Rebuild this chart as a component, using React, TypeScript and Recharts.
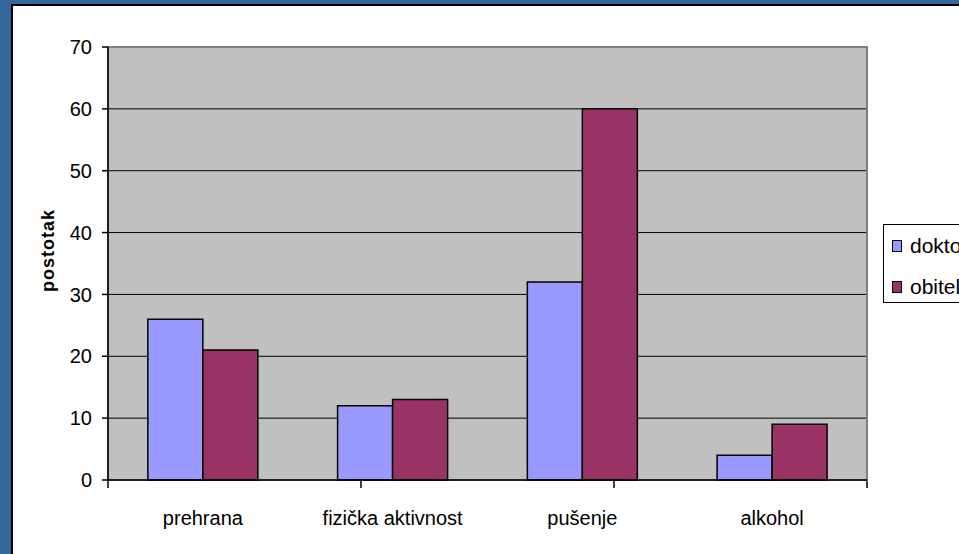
import React from 'react';
import { BarChart, Bar, XAxis, YAxis, CartesianGrid, ReferenceArea } from 'recharts';

const categories = ['prehrana', 'fizička aktivnost', 'pušenje', 'alkohol'];
const doktori = [26, 12, 32, 4];
const obitelj = [21, 13, 60, 9];
const yTicks = [0, 10, 20, 30, 40, 50, 60, 70];
const boundaryTicks = [0, 1, 2, 3, 4];
const seriesNames = ['doktori', 'obitelj'];
const seriesColors = ['#9999ff', '#993366'];

const data = categories.map((c, i) => ({ name: c, doktori: doktori[i], obitelj: obitelj[i] }));

const FONT = '"Liberation Sans", Arial, sans-serif';

const YLabel = (props: any) => {
  const vb = props.viewBox || { x: 0, y: 0, width: 0, height: 0 };
  const x = vb.x + 48;
  const y = vb.y + vb.height / 2 - 13;
  return (
    <text
      x={x}
      y={y}
      transform={`rotate(-90 ${x} ${y})`}
      textAnchor="middle"
      dominantBaseline="central"
      style={{ fontFamily: FONT, fontSize: 18, fontWeight: 'bold', letterSpacing: 1 }}
      fill="#000"
    >
      postotak
    </text>
  );
};

const LegendBox = () => (
  <div
    style={{
      position: 'absolute',
      left: 883,
      top: 224,
      width: 120,
      height: 79,
      border: '1px solid #000',
      background: '#fff',
      fontFamily: FONT,
      fontSize: 21,
      boxSizing: 'border-box',
    }}
  >
    {seriesNames.map((n, i) => (
      <div key={n} style={{ position: 'absolute', left: 8, top: 9 + i * 41, display: 'flex', alignItems: 'center', lineHeight: '24px', whiteSpace: 'nowrap' }}>
        <span style={{ display: 'inline-block', width: 8, height: 10, background: seriesColors[i], border: '1px solid #000', marginRight: 8 }} />
        <span>{n}</span>
      </div>
    ))}
  </div>
);

export default function App() {
  return (
    <div style={{ position: 'fixed', left: 0, top: 0, width: 959, height: 554, overflow: 'hidden', background: '#336699' }}>
      <div style={{ position: 'absolute', left: 11, top: 4, width: 1000, height: 600, border: '2px solid #000', background: '#fff' }} />
      <div style={{ position: 'absolute', left: 0, top: 0 }}>
        <BarChart
          width={1000}
          height={554}
          data={data}
          margin={{ top: 47, right: 133, left: 0, bottom: 72 }}
          barCategoryGap="21%"
          barGap={0}
        >
          <CartesianGrid vertical={false} stroke="#000" fill="#c0c0c0" fillOpacity={1} />
          <ReferenceArea y1={0} y2={70} fill="none" fillOpacity={0} stroke="#808080" strokeWidth={2} ifOverflow="visible" />
          <XAxis
            dataKey="name"
            height={1}
            tickLine={false}
            axisLine={{ stroke: '#000', strokeWidth: 1.5 }}
            tickSize={6}
            tickMargin={25}
            interval={0}
            tick={{ fill: '#000', fontSize: 20, fontFamily: FONT }}
          />
          <XAxis
            xAxisId="b"
            type="number"
            domain={[0, 4]}
            ticks={boundaryTicks}
            allowDataOverflow
            interval={0}
            height={1}
            tickFormatter={() => ''}
            tick={{ fill: 'none' }}
            tickSize={7}
            tickLine={{ stroke: '#000', strokeWidth: 1.5 }}
            axisLine={false}
          />
          <YAxis
            width={108}
            domain={[0, 70]}
            ticks={yTicks}
            interval={0}
            tickSize={6}
            tickMargin={10}
            tickLine={{ stroke: '#000', strokeWidth: 1.5 }}
            axisLine={{ stroke: '#000', strokeWidth: 1.5 }}
            tick={{ fill: '#000', fontSize: 20, fontFamily: FONT }}
            label={<YLabel />}
          />
          <Bar dataKey="doktori" fill={seriesColors[0]} stroke="#000" strokeWidth={1.5} isAnimationActive={false} />
          <Bar dataKey="obitelj" fill={seriesColors[1]} stroke="#000" strokeWidth={1.5} isAnimationActive={false} />
        </BarChart>
      </div>
      <LegendBox />
    </div>
  );
}
